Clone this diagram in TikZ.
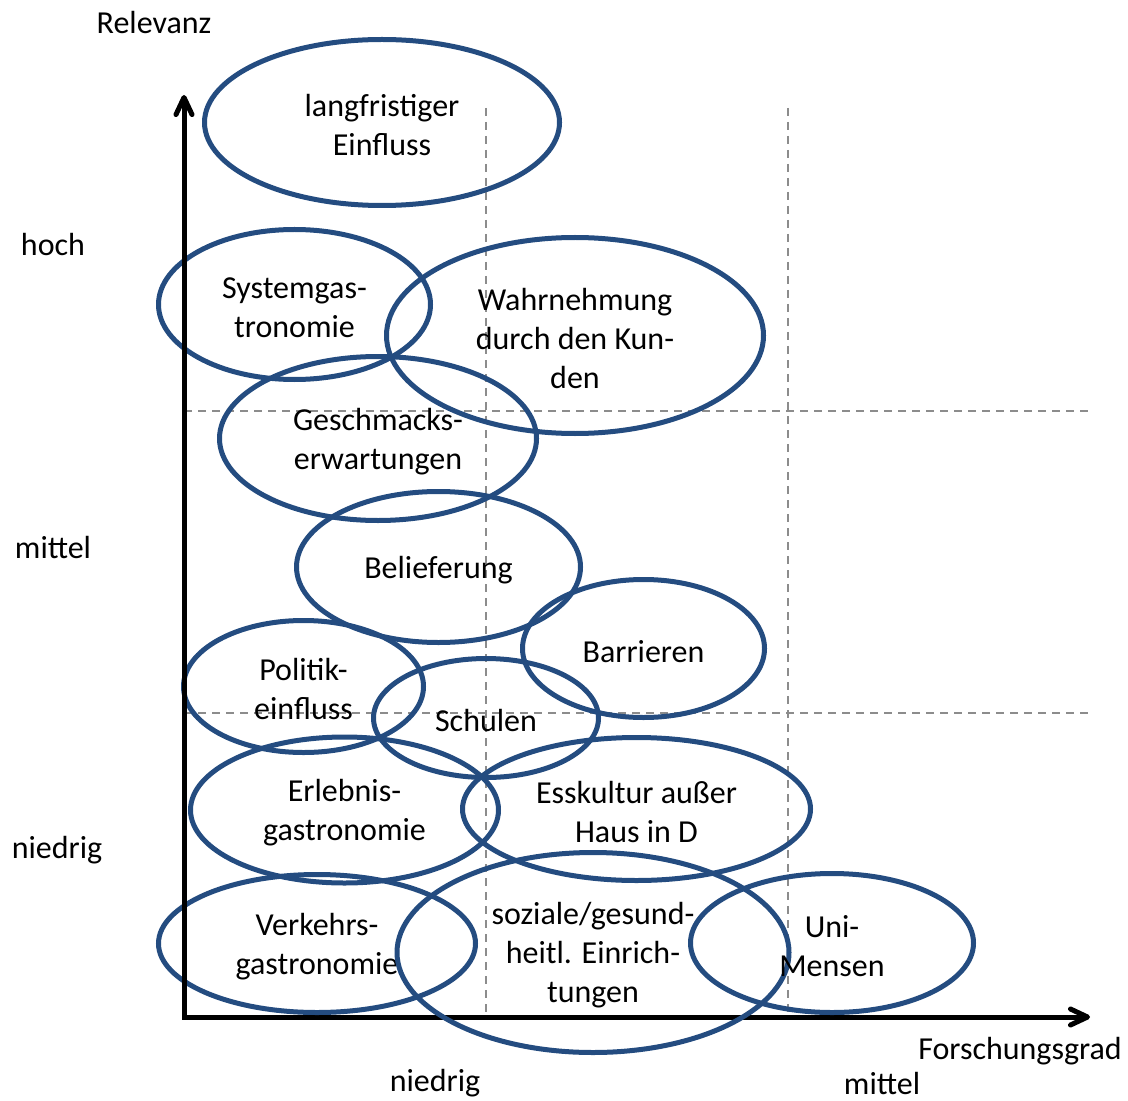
\documentclass[tikz,border=0pt]{standalone}
\usepackage{fontspec}
\setmainfont{Carlito}
\usepackage{tikz}
\usetikzlibrary{arrows.meta, shapes.geometric}
\usepackage{xcolor}
\definecolor{ringblue}{RGB}{36,76,128}
\definecolor{dashgray}{RGB}{140,140,140}

\begin{document}
\begin{tikzpicture}[x=0.5pt,y=-0.5pt,font=\fontsize{16}{19.5}\selectfont]
    \tikzstyle{topic}=[shape=ellipse,draw=ringblue,line width=2.5pt,inner sep=0pt]
    \tikzstyle{topictext}=[align=center,inner sep=0pt,yshift=-1.5pt]
    \tikzstyle{axisline}=[line width=2.5pt,-{Straight Barb[length=8.5pt,width=8pt,round]}]
    \tikzstyle{raster}=[draw=dashgray,line width=1pt,dash pattern=on 4pt off 3pt]
    \tikzstyle{scalelabel}=[inner sep=0pt]

    \useasboundingbox (0,0) rectangle (1128,1101);

    % axes and grid points
    \coordinate (O) at (184,1017);
    \coordinate (ytop) at (184,95);
    \coordinate (xend) at (1090,1017);
    \coordinate (V1t) at (486,108);
    \coordinate (V1b) at (486,1017);
    \coordinate (V2t) at (788,108);
    \coordinate (V2b) at (788,1017);
    \coordinate (H1l) at (184,411);
    \coordinate (H1r) at (1091,411);
    \coordinate (H2l) at (184,713);
    \coordinate (H2r) at (1091,713);

    \draw[raster] (V1t) -- (V1b);
    \draw[raster] (V2t) -- (V2b);
    \draw[raster] (H1l) -- (H1r);
    \draw[raster] (H2l) -- (H2r);
    \draw[axisline] (O) -- (xend);

    % topics
    \node[topic, minimum width=177.5pt, minimum height=83pt, label={[topictext]center:{langfristiger\\Einfluss}}] (lang) at (382,122.5) {};
    \node[topic, minimum width=136pt, minimum height=75pt, label={[topictext]center:{Systemgas-\\tronomie}}] (sys) at (294.5,304.5) {};
    \node[topic, minimum width=188.5pt, minimum height=98pt, label={[topictext]center:{Wahrnehmung\\durch den Kun-\\den}}] (wahr) at (575,335.5) {};
    \node[topic, minimum width=158.5pt, minimum height=82pt, label={[topictext]center:{Geschmacks-\\erwartungen}}] (gesch) at (378,438.5) {};
    \node[topic, minimum width=142pt, minimum height=75.5pt, label={[topictext]center:{Belieferung}}] (belief) at (438.5,567) {};
    \node[topic, minimum width=121pt, minimum height=69pt, label={[topictext]center:{Barrieren}}] (barr) at (643.5,648.5) {};
    \node[topic, minimum width=120pt, minimum height=66pt, label={[topictext]center:{Politik-\\einfluss}}] (polit) at (303.5,686.5) {};
    \node[topic, minimum width=112.5pt, minimum height=59.5pt, label={[topictext]center:{Schulen}}] (schul) at (486,718) {};
    \node[topic, minimum width=154pt, minimum height=73pt, label={[topictext]center:{Erlebnis-\\gastronomie}}] (erleb) at (344.5,810) {};
    \node[topic, minimum width=174pt, minimum height=71.5pt, label={[topictext]center:{Esskultur außer\\Haus in D}}] (essk) at (636.5,809) {};
    \node[topic, minimum width=158.5pt, minimum height=69pt, label={[topictext]center:{Verkehrs-\\gastronomie}}] (verk) at (317,943.5) {};
    \node[topic, minimum width=196pt, minimum height=100pt, label={[topictext]center:{soziale/gesund-\\heitl. Einrich-\\tungen}}] (sozi) at (593,952.5) {};
    \node[topic, minimum width=141.5pt, minimum height=69.5pt, label={[topictext]center:{Uni-\\Mensen}}] (uni) at (832,943) {};

    \draw[axisline, shorten <=-1.25pt] (O) -- (ytop);

    % scale labels
    \node[scalelabel] (rel) at (154,23) {Relevanz};
    \node[scalelabel] (hoch) at (53,245) {hoch};
    \node[scalelabel] (ymit) at (53,548) {mittel};
    \node[scalelabel] (ynie) at (57,850) {niedrig};
    \node[scalelabel] (xnie) at (435,1083) {niedrig};
    \node[scalelabel] (xmit) at (882,1083) {mittel};
    \node[scalelabel] (fg) at (1020,1051) {Forschungsgrad};
\end{tikzpicture}
\end{document}
